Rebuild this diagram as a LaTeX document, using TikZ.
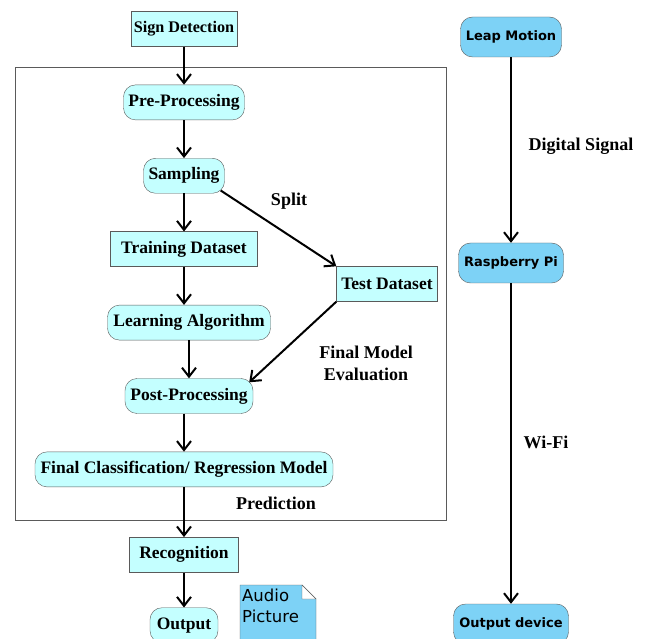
\documentclass[tikz,border=0pt]{standalone}
\usepackage{fontspec}
\setmainfont{Liberation Serif}
\newfontfamily\devfont{DejaVu Sans}
\usetikzlibrary{arrows.meta,positioning}

\begin{document}
\begin{tikzpicture}[x=1pt,y=-1pt]
\definecolor{stepcyan}{RGB}{196,255,255}
\definecolor{devblue}{RGB}{125,210,246}
\definecolor{edgegray}{RGB}{90,90,90}
\tikzset{
    box/.style={
           rectangle,
           draw=edgegray,
           fill=stepcyan,
           minimum height=35pt,
           inner xsep=3pt,
           font=\fontsize{17.5}{20}\selectfont\bfseries},
    rbox/.style={
           box,
           rounded corners=12pt},
    device/.style={
           rectangle,
           draw=edgegray,
           fill=devblue,
           rounded corners=12pt,
           minimum height=40pt,
           inner xsep=3pt,
           font=\devfont\fontsize{13}{15}\selectfont\bfseries},
    explanation/.style={
           align=center,
           font=\fontsize{18}{22}\selectfont\bfseries},
    % Define arrow style
    arrow/.style= {
           -{Straight Barb[length=9pt,width=14pt,line width=2pt]},
           line width=2pt
    }
}
\useasboundingbox (0,0) rectangle (646,639);
\draw[edgegray,line width=1pt] (15,68) rectangle (446,520);
\node[box,minimum width=104pt,font=\fontsize{16.2}{18}\selectfont\bfseries] (detect) at (184,29) {Sign Detection};
\node[rbox,minimum width=121pt,below =38pt of detect] (pre) {Pre-Processing};
\node[rbox,minimum width=81pt,below =38pt of pre] (sampling) {Sampling};
\node[box,minimum width=147pt,below =38pt of sampling] (training) {Training Dataset};
\node[rbox,minimum width=163pt,below =38pt of training,xshift=5pt] (learning) {Learning Algorithm};
\node[rbox,minimum width=128pt,below =38pt of learning] (post) {Post-Processing};
\node[rbox,minimum width=298pt,below =38pt of post,xshift=-5pt] (final) {Final Classification/ Regression Model};
\node[box,minimum width=109pt,below =50pt of final] (recog) {Recognition};
\node[rbox,minimum width=68pt,below =35pt of recog] (output) {Output};
\node[box,minimum width=101pt] (test) at (387,284) {Test Dataset};
\node[explanation] (split) at (289,201) {Split};
\node[explanation] (evaluation) at (366,363) {Final Model\\Evaluation};
\node[explanation] (prediction) at (276,503) {Prediction};
\coordinate (media) at (240,585);
\fill[devblue] (media) -- ++(62,0) -- ++(14,14) -- ++(0,61) -- ++(-76,0) -- cycle;
\draw[edgegray] (media) ++(0,75) -- (media) -- ++(62,0) -- ++(14,14) -- ++(0,61);
\draw[edgegray,fill=white] (media) ++(62,0) -- ++(0,14) -- ++(14,0) -- cycle;
\node[anchor=north west,inner xsep=2pt,inner ysep=4pt,align=left,
      font=\devfont\fontsize{16.5}{20.5}\selectfont] (mediatext) at (media) {Audio\\Picture};
\node[device,minimum width=101pt] (leap) at (511,37) {Leap Motion};
\node[device,minimum width=105pt] (raspi) at (511,263) {Raspberry Pi};
\node[device,minimum width=115pt] (outdev) at (511,624) {Output device};
\node[explanation] (digital) at (581,146) {Digital Signal};
\node[explanation] (wifi) at (546,442) {Wi-Fi};
\draw[arrow](detect.south) -- (pre.north);
\draw[arrow](pre.south) -- (sampling.north);
\draw[arrow](sampling.south) -- (training.north);
\draw[arrow](training.south) -- (training.south |- learning.north);
\draw[arrow](learning.south) -- (post.north -| learning.south);
\draw[arrow](post.south -| final.north) -- (final.north);
\draw[arrow](final.south) -- (recog.north);
\draw[arrow](recog.south) -- (output.north);
\draw[arrow](sampling.south east) ++(-4,-3) -- (test.north west);
\draw[arrow](test.south west) -- ([xshift=-4pt,yshift=-4pt]post.north east);
\draw[arrow](leap.south) -- (raspi.north);
\draw[arrow](raspi.south) -- (outdev.north);
\end{tikzpicture}
\end{document}
